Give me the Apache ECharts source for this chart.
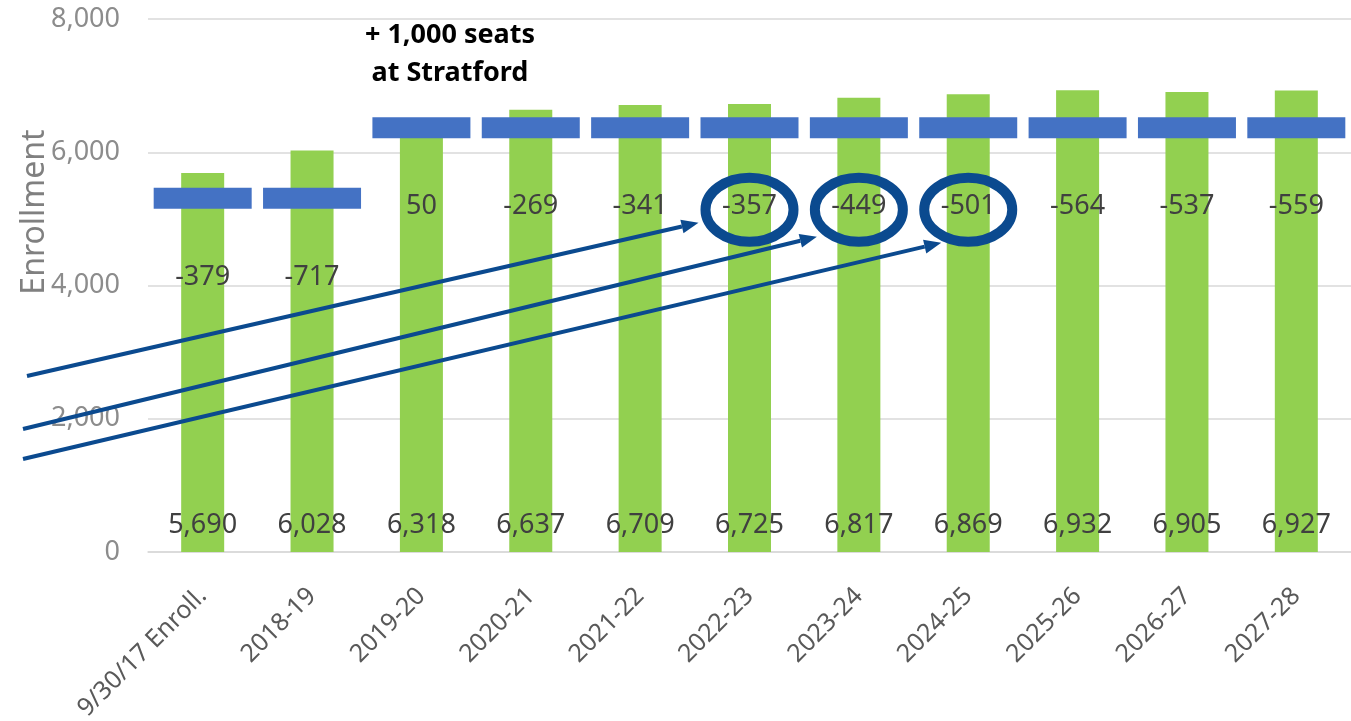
<!DOCTYPE html>
<html><head><meta charset="utf-8">
<script src="https://cdn.jsdelivr.net/npm/echarts/dist/echarts.min.js"></script>
<style>html,body{margin:0;padding:0;background:#fff}#c{width:1351px;height:721px}</style>
</head><body><div id="c"></div>
<script>
const categories = ['9/30/17 Enroll.','2018-19','2019-20','2020-21','2021-22','2022-23','2023-24','2024-25','2025-26','2026-27','2027-28'];
const enrollment = [5690,6028,6318,6637,6709,6725,6817,6869,6932,6905,6927];
const capacity = [5311,5311,6368,6368,6368,6368,6368,6368,6368,6368,6368];
const seatDiff = [-379,-717,50,-269,-341,-357,-449,-501,-564,-537,-559];
const yTicks = [0,2000,4000,6000,8000];
const circled = [5,6,7];
const annotationLines = ['+ 1,000 seats','at Stratford'];

const FONT = 'Noto Sans';
const fmt = v => Number(v).toLocaleString('en-US');
const chart = echarts.init(document.getElementById('c'));
chart.setOption({
  animation:false,
  backgroundColor:'#fff',
  textStyle:{fontFamily:FONT},
  grid:{left:148,right:0,top:19,bottom:169,containLabel:false,outerBoundsMode:'none'},
  xAxis:{type:'category',data:categories,
    axisLine:{lineStyle:{color:'#d9d9d9',width:1.5}},axisTick:{show:false},
    axisLabel:{rotate:45,fontSize:25,color:'#595959',margin:40,fontFamily:FONT,interval:0}},
  yAxis:{type:'value',min:yTicks[0],max:yTicks[yTicks.length-1],interval:yTicks[1]-yTicks[0],
    axisLine:{show:false},axisTick:{show:false},
    splitLine:{lineStyle:{color:'#d9d9d9',width:1.5}},
    axisLabel:{fontSize:27,color:'#8c8c8c',margin:28,formatter:fmt,fontFamily:FONT}},
  series:[
    {type:'bar',data:enrollment,barWidth:43,itemStyle:{color:'#92d050'},z:2,
      label:{show:true,position:'insideBottom',distance:13,fontSize:27,color:'#404040',fontFamily:FONT,
        formatter:p=>fmt(p.value)}},
    {type:'scatter',data:capacity,symbol:'rect',symbolSize:[98,21],itemStyle:{color:'#4472c4',opacity:1},z:5,
      label:{show:true,position:'inside',offset:[0,79],fontSize:27,color:'#404040',fontFamily:FONT,
        formatter:p=>String(seatDiff[p.dataIndex])}}
  ]
});

function buildGraphics(){
  const g = [];
  const col = '#0b4a8f';
  g.push({type:'text',x:450,y:16,style:{text:annotationLines.join('\n'),fontSize:27,fontWeight:'bold',
    fill:'#000',fontFamily:FONT,align:'center',lineHeight:38},z:10});
  g.push({type:'text',x:35,y:212,rotation:Math.PI/2,style:{text:'Enrollment',fontSize:32,fill:'#808080',
    fontFamily:FONT,align:'center',verticalAlign:'middle'},z:10});
  const tipOffsets = [[-51,13],[-42,27],[-27,33]];
  const starts = [[27,376],[23,429],[23,459]];
  circled.forEach((idx,i)=>{
    const p = chart.convertToPixel({seriesIndex:1},[idx,capacity[idx]]);
    const cx = p[0], cy = p[1]+82;
    g.push({type:'ellipse',shape:{cx:cx,cy:cy,rx:44,ry:32},style:{fill:'none',stroke:col,lineWidth:10},z:20});
    const tx = cx+tipOffsets[i][0], ty = cy+tipOffsets[i][1];
    const sx = starts[i][0], sy = starts[i][1];
    const dx = tx-sx, dy = ty-sy, L = Math.hypot(dx,dy), ux = dx/L, uy = dy/L;
    const bx = tx-ux*17, by = ty-uy*17;
    g.push({type:'line',shape:{x1:sx,y1:sy,x2:bx,y2:by},style:{stroke:col,lineWidth:4},z:20});
    g.push({type:'polygon',shape:{points:[[tx,ty],[bx-uy*7,by+ux*7],[bx+uy*7,by-ux*7]]},style:{fill:col},z:20});
  });
  chart.setOption({graphic:g});
}
buildGraphics();
</script></body></html>
